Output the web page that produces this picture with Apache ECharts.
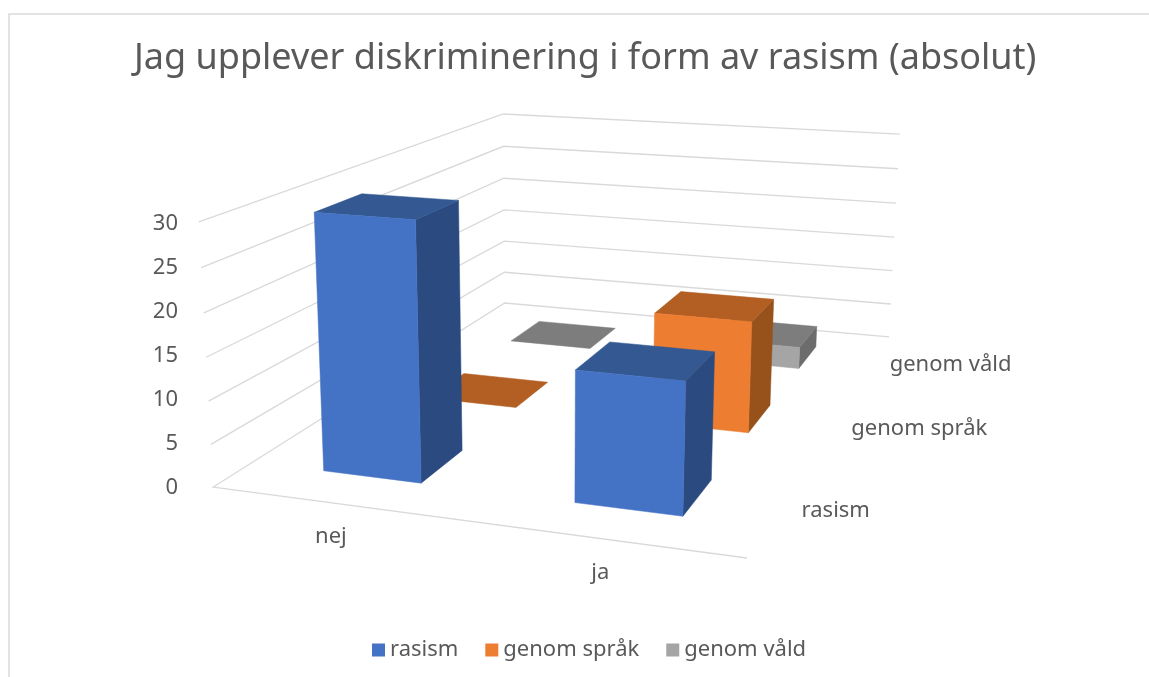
<!DOCTYPE html>
<html>
<head>
<meta charset="utf-8">
<title>Jag upplever diskriminering i form av rasism (absolut)</title>
<script src="https://cdn.jsdelivr.net/npm/echarts@6/dist/echarts.min.js"></script>
<style>
    html, body { margin: 0; padding: 0; background: #fff; }
    #chart { width: 1149px; height: 677px; }
</style>
</head>
<body>
<div id="chart"></div>
<script>
var titleText = 'Jag upplever diskriminering i form av rasism (absolut)';
var categories = ['nej', 'ja'];
var seriesNames = ['rasism', 'genom språk', 'genom våld'];
var valueTicks = [0, 5, 10, 15, 20, 25, 30];
var rasismValues = [30, 15];
var sprakValues = [0, 14];
var valdValues = [0, 3];

var FONT = '"Noto Sans", sans-serif';
var TEXT_COLOR = '#595959';
var GRID_COLOR = '#D9D9D9';
var BAR_RATIO = 0.4; // gap width 150%

// front, top and side colour per series
var shades = [
    { front: '#4472C4', top: '#335892', side: '#2A4A80' },
    { front: '#ED7D31', top: '#B35E22', side: '#97521C' },
    { front: '#A5A5A5', top: '#7D7D7D', side: '#6C6C6C' }
];

// where the corners of the box land in the window: [x, depth, value, px, py]
var anchors = [
    [0, 0, 0, 213, 487], [1, 0, 0, 747, 558], [0, 1, 0, 505, 303], [1, 1, 0, 889, 337],
    [0, 0, 1, 199, 222], [0, 1, 1, 503, 114], [1, 1, 1, 900, 134]
];

function solve(A, b) {
    var n = b.length;
    for (var i = 0; i < n; i++) {
        var pivot = i;
        for (var r = i + 1; r < n; r++) {
            if (Math.abs(A[r][i]) > Math.abs(A[pivot][i])) pivot = r;
        }
        var tmpRow = A[i]; A[i] = A[pivot]; A[pivot] = tmpRow;
        var tmpVal = b[i]; b[i] = b[pivot]; b[pivot] = tmpVal;
        for (var k = i + 1; k < n; k++) {
            var f = A[k][i] / A[i][i];
            for (var c = i; c < n; c++) A[k][c] -= f * A[i][c];
            b[k] -= f * b[i];
        }
    }
    var out = new Array(n);
    for (var j = n - 1; j >= 0; j--) {
        var s = b[j];
        for (var m = j + 1; m < n; m++) s -= A[j][m] * out[m];
        out[j] = s / A[j][j];
    }
    return out;
}

// least squares fit of the 3x4 perspective matrix
function fitCamera(points) {
    var rows = [];
    var rhs = [];
    points.forEach(function (p) {
        var u = p[3] / 1000;
        var v = p[4] / 1000;
        rows.push([p[0], p[1], p[2], 1, 0, 0, 0, 0, -u * p[0], -u * p[1], -u * p[2]]);
        rhs.push(u);
        rows.push([0, 0, 0, 0, p[0], p[1], p[2], 1, -v * p[0], -v * p[1], -v * p[2]]);
        rhs.push(v);
    });
    var N = [];
    var t = [];
    for (var i = 0; i < 11; i++) {
        N.push([]);
        t.push(0);
        for (var j = 0; j < 11; j++) {
            var sum = 0;
            rows.forEach(function (row) { sum += row[i] * row[j]; });
            N[i].push(sum);
        }
        rows.forEach(function (row, r) { t[i] += row[i] * rhs[r]; });
    }
    return solve(N, t);
}

var cam = fitCamera(anchors);

function project(x, d, z) {
    var w = cam[8] * x + cam[9] * d + cam[10] * z + 1;
    return [
        1000 * (cam[0] * x + cam[1] * d + cam[2] * z + cam[3]) / w,
        1000 * (cam[4] * x + cam[5] * d + cam[6] * z + cam[7]) / w
    ];
}

function polygon(points, color) {
    return {
        type: 'polygon',
        shape: { points: points },
        style: { fill: color, stroke: color, lineWidth: 0.5 }
    };
}

function renderBar(rowIndex) {
    return function (params, api) {
        var sys = params.coordSys;
        var band = api.size([1, 0])[0];
        var center = (api.coord([api.value(0), 0])[0] - sys.x) / sys.width;
        var zero = api.coord([0, 0])[1];
        var h = (zero - api.coord([0, api.value(1)])[1]) / sys.height;
        var halfX = BAR_RATIO * band / sys.width / 2;
        var halfD = BAR_RATIO / seriesNames.length / 2;
        var dCenter = (rowIndex + 0.5) / seriesNames.length;
        var x0 = center - halfX;
        var x1 = center + halfX;
        var d0 = dCenter - halfD;
        var d1 = dCenter + halfD;
        var shade = shades[rowIndex];
        var children = [];
        if (h > 0) {
            children.push(polygon([project(x1, d0, 0), project(x1, d1, 0), project(x1, d1, h), project(x1, d0, h)], shade.side));
        }
        children.push(polygon([project(x0, d0, h), project(x1, d0, h), project(x1, d1, h), project(x0, d1, h)], shade.top));
        if (h > 0) {
            children.push(polygon([project(x0, d0, 0), project(x1, d0, 0), project(x1, d0, h), project(x0, d0, h)], shade.front));
        }
        return { type: 'group', children: children };
    };
}

function renderGridLine(params, api) {
    var sys = params.coordSys;
    var v = api.value(1);
    var z = (api.coord([0, 0])[1] - api.coord([0, v])[1]) / sys.height;
    var points = [project(0, 0, z), project(0, 1, z), project(1, 1, z)];
    if (v === 0) {
        points = [project(1, 0, 0)].concat(points);
    }
    return {
        type: 'polyline',
        shape: { points: points },
        style: { fill: null, stroke: GRID_COLOR, lineWidth: 1.3 }
    };
}

function axisText(text, x, y, align) {
    return {
        type: 'text',
        style: {
            text: text, x: x, y: y,
            fill: TEXT_COLOR, fontSize: 22, fontFamily: FONT,
            align: align, verticalAlign: 'middle'
        }
    };
}

function renderCategoryLabel(params, api) {
    var sys = params.coordSys;
    var center = (api.coord([api.value(0), 0])[0] - sys.x) / sys.width;
    var pos = project(center, -0.03, 0);
    return axisText(categories[params.dataIndex], pos[0] + 6, pos[1] + 25, 'center');
}

function renderRowLabel(params, api) {
    var d = (params.dataIndex + 0.5) / seriesNames.length;
    var pos = project(1.04, d, 0);
    return axisText(seriesNames[params.dataIndex], pos[0], pos[1], 'left');
}

function barSeries(rowIndex, values) {
    return {
        name: seriesNames[rowIndex],
        type: 'custom',
        renderItem: renderBar(rowIndex),
        encode: { x: 0, y: 1 },
        itemStyle: { color: shades[rowIndex].front },
        data: values.map(function (v, i) { return [i, v]; }),
        z: 3
    };
}

var chart = echarts.init(document.getElementById('chart'));
chart.setOption({
    animation: false,
    backgroundColor: '#fff',
    title: {
        text: titleText,
        left: 129,
        top: 36,
        textStyle: { color: TEXT_COLOR, fontFamily: FONT, fontWeight: 'normal', fontSize: 36 }
    },
    legend: {
        data: seriesNames,
        left: 367,
        top: 634,
        itemWidth: 13,
        itemHeight: 13,
        itemGap: 27,
        icon: 'rect',
        textStyle: { color: TEXT_COLOR, fontFamily: FONT, fontSize: 22 }
    },
    graphic: [{
        type: 'rect',
        shape: { x: 9, y: 14, width: 1300, height: 800 },
        style: { fill: null, stroke: GRID_COLOR, lineWidth: 1.5 },
        silent: true
    }],
    grid: { left: 190, top: 224, width: 534, height: 264 },
    xAxis: { type: 'category', data: categories, show: false },
    yAxis: {
        type: 'value',
        min: 0,
        max: 30,
        interval: 5,
        axisLine: { show: false },
        axisTick: { show: false },
        splitLine: { show: false },
        axisLabel: { color: TEXT_COLOR, fontFamily: FONT, fontSize: 22, margin: 12 }
    },
    series: [
        {
            type: 'custom',
            silent: true,
            renderItem: renderGridLine,
            encode: { x: 0, y: 1 },
            data: valueTicks.map(function (v) { return [0, v]; }),
            z: 1
        },
        barSeries(2, valdValues),
        barSeries(1, sprakValues),
        barSeries(0, rasismValues),
        {
            type: 'custom',
            silent: true,
            renderItem: renderCategoryLabel,
            encode: { x: 0, y: 1 },
            data: categories.map(function (c, i) { return [i, 0]; }),
            z: 4
        },
        {
            type: 'custom',
            silent: true,
            renderItem: renderRowLabel,
            encode: { x: 0, y: 1 },
            data: seriesNames.map(function () { return [0, 0]; }),
            z: 4
        }
    ]
});
</script>
</body>
</html>
